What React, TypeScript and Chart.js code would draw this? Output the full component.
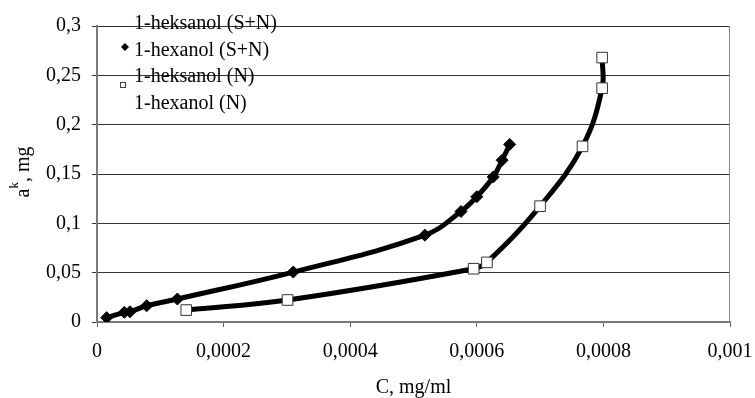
import React, { useEffect, useRef } from "react";
import { Chart, registerables } from "chart.js";

Chart.register(...registerables);

// 1-hexanol (S+N)
const snX = [0.0000153, 0.0000431, 0.0000521, 0.0000785, 0.000127, 0.00031, 0.000518, 0.000575, 0.0006, 0.000626, 0.00064, 0.000652];
const snY = [0.0044, 0.0098, 0.0104, 0.0165, 0.0233, 0.0506, 0.088, 0.112, 0.127, 0.147, 0.164, 0.18];
// 1-hexanol (N)
const nX = [0.000141, 0.000301, 0.000595, 0.000616, 0.0007, 0.000767, 0.000798, 0.000798];
const nY = [0.0121, 0.0223, 0.054, 0.0604, 0.1174, 0.178, 0.237, 0.268];

const legendLabels = ["1-heksanol (S+N)", "1-hexanol (S+N)", "1-heksanol (N)", "1-hexanol (N)"];
const xTickValues = [0, 0.0002, 0.0004, 0.0006, 0.0008, 0.001];
const xTickLabels = ["0", "0,0002", "0,0004", "0,0006", "0,0008", "0,001"];
const yTickValues = [0, 0.05, 0.1, 0.15, 0.2, 0.25, 0.3];
const yTickLabels = ["0", "0,05", "0,1", "0,15", "0,2", "0,25", "0,3"];
const xTitle = "C, mg/ml";
const yTitleMain = "a";
const yTitleSup = "k";
const yTitleRest = ", mg";

const FONT = "'Times New Roman', 'Liberation Serif', serif";

const pts = (xs: number[], ys: number[]) => xs.map((x, i) => ({ x, y: ys[i] }));

const overlayPlugin = {
  id: "overlay",
  afterDraw(chart: any) {
    const ctx = chart.ctx as CanvasRenderingContext2D;
    const a = chart.chartArea;
    ctx.save();
    // right border of plot area
    ctx.strokeStyle = "#8a8a8a";
    ctx.lineWidth = 1;
    ctx.beginPath();
    ctx.moveTo(a.right - 0.5, a.top);
    ctx.lineTo(a.right - 0.5, a.bottom);
    ctx.stroke();

    // legend
    ctx.fillStyle = "#000";
    ctx.font = `20px ${FONT}`;
    ctx.textBaseline = "middle";
    ctx.textAlign = "left";
    const lx = a.left + 37;
    const rows = [24, 50.5, 77, 103.5];
    legendLabels.forEach((t, i) => ctx.fillText(t, lx, rows[i]));
    // diamond symbol
    ctx.beginPath();
    const dx = a.left + 28, dy = 47;
    ctx.moveTo(dx - 4, dy);
    ctx.lineTo(dx, dy - 4);
    ctx.lineTo(dx + 4, dy);
    ctx.lineTo(dx, dy + 4);
    ctx.closePath();
    ctx.fill();
    // square symbol
    ctx.fillStyle = "#fff";
    ctx.strokeStyle = "#444";
    ctx.fillRect(a.left + 23.5, 82.5, 5, 5);
    ctx.strokeRect(a.left + 23.5, 82.5, 5, 5);

    // x title
    ctx.fillStyle = "#000";
    ctx.textAlign = "center";
    ctx.textBaseline = "alphabetic";
    ctx.font = `20px ${FONT}`;
    ctx.fillText(xTitle, (a.left + a.right) / 2, 393);

    // y title (rotated, with superscript)
    ctx.translate(29, 172);
    ctx.rotate(-Math.PI / 2);
    ctx.textAlign = "left";
    ctx.font = `20px ${FONT}`;
    const wA = ctx.measureText(yTitleMain).width;
    const wR = ctx.measureText(yTitleRest).width;
    ctx.font = `13px ${FONT}`;
    const wK = ctx.measureText(yTitleSup).width;
    let x0 = -(wA + wK + wR) / 2;
    ctx.font = `20px ${FONT}`;
    ctx.fillText(yTitleMain, x0, 0);
    ctx.font = `13px ${FONT}`;
    ctx.fillText(yTitleSup, x0 + wA, -11);
    ctx.font = `20px ${FONT}`;
    ctx.fillText(yTitleRest, x0 + wA + wK, 0);
    ctx.restore();
  },
};

export default function App() {
  const ref = useRef<HTMLCanvasElement | null>(null);
  useEffect(() => {
    if (!ref.current) return;
    const chart = new Chart(ref.current, {
      type: "scatter",
      data: {
        datasets: [
          {
            label: legendLabels[1],
            data: pts(snX, snY),
            showLine: false,
            pointStyle: "rectRot",
            pointRadius: 6,
            backgroundColor: "#000",
            borderColor: "#000",
            borderWidth: 1,
            order: 0,
          },
          {
            label: legendLabels[3],
            data: pts(nX, nY),
            showLine: false,
            pointStyle: "rect",
            pointRadius: 7.5,
            backgroundColor: "#fff",
            borderColor: "#333",
            borderWidth: 1,
            order: 0,
          },
          {
            label: legendLabels[0],
            data: pts(snX, snY),
            showLine: true,
            pointRadius: 0,
            borderColor: "#000",
            borderWidth: 5,
            tension: 0.4,
            order: 1,
          },
          {
            label: legendLabels[2],
            data: pts(nX, nY),
            showLine: true,
            pointRadius: 0,
            borderColor: "#000",
            borderWidth: 5,
            tension: 0.4,
            order: 1,
          },
        ],
      },
      options: {
        animation: false,
        responsive: true,
        maintainAspectRatio: false,
        events: [],
        layout: { padding: { left: 0, top: 26, right: 25, bottom: 0 } },
        plugins: { legend: { display: false }, tooltip: { enabled: false } },
        scales: {
          x: {
            type: "linear",
            min: 0,
            max: 0.001,
            afterBuildTicks: (s: any) => {
              s.ticks = xTickValues.map((v) => ({ value: v }));
            },
            afterFit: (s: any) => {
              s.height = 76;
              s.paddingLeft = 0;
              s.paddingRight = 0;
            },
            ticks: {
              autoSkip: false,
              maxRotation: 0,
              padding: 13,
              color: "#000",
              font: { family: FONT, size: 20 },
              callback: (_v: any, i: number) => xTickLabels[i],
            },
            grid: { drawOnChartArea: false, drawTicks: true, tickLength: 5, color: "#666" },
            border: { color: "#7a7a7a", width: 2 },
          },
          y: {
            type: "linear",
            min: 0,
            max: 0.3,
            afterBuildTicks: (s: any) => {
              s.ticks = yTickValues.map((v) => ({ value: v }));
            },
            afterFit: (s: any) => {
              s.width = 97;
              s.paddingTop = 0;
              s.paddingBottom = 0;
            },
            ticks: {
              autoSkip: false,
              padding: 11,
              color: "#000",
              font: { family: FONT, size: 20 },
              callback: (_v: any, i: number) => yTickLabels[i],
            },
            grid: { drawTicks: true, tickLength: 5, color: "#333", lineWidth: 1 },
            border: { color: "#7a7a7a", width: 2 },
          },
        },
      },
      plugins: [overlayPlugin],
    } as any);
    return () => chart.destroy();
  }, []);
  return (
    <div style={{ position: "fixed", left: 0, top: 0, width: 755, height: 398 }}>
      <canvas ref={ref} />
    </div>
  );
}
